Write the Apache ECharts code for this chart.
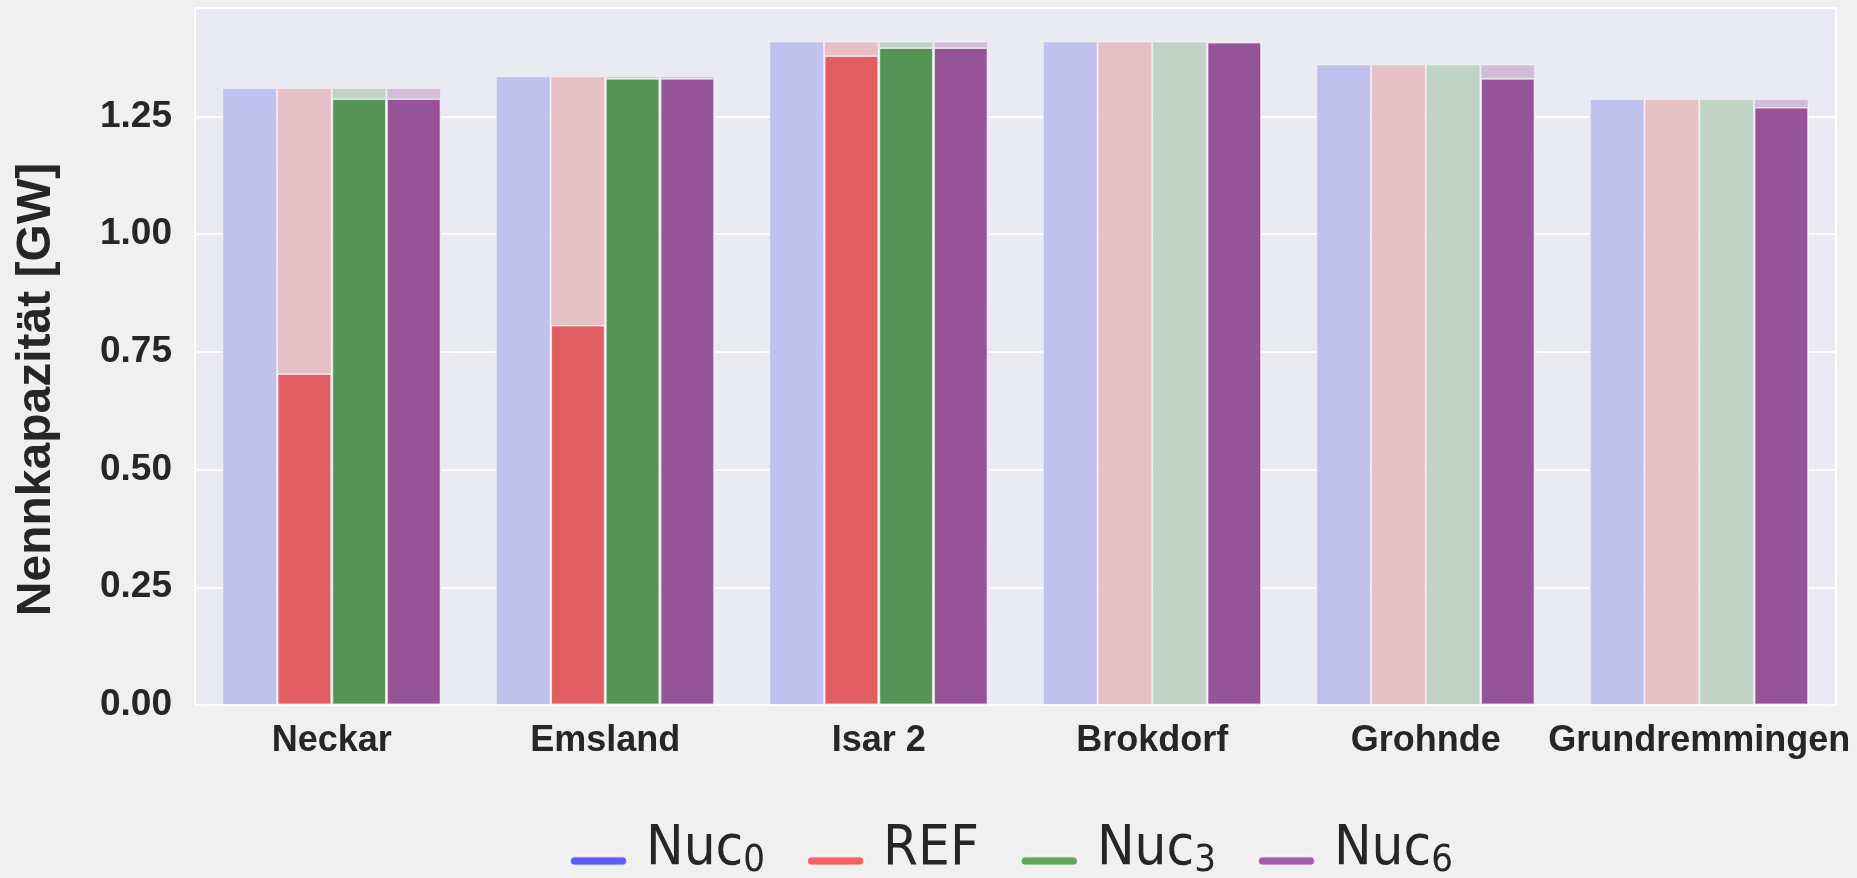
<!DOCTYPE html>
<html>
<head>
<meta charset="utf-8">
<script src="https://cdn.jsdelivr.net/npm/echarts@6/dist/echarts.min.js"></script>
<style>
html,body{margin:0;padding:0;background:#f0f0f0;}
#chart{width:1857px;height:878px;}
</style>
</head>
<body>
<div id="chart"></div>
<script>
const categories = ['Neckar', 'Emsland', 'Isar 2', 'Brokdorf', 'Grohnde', 'Grundremmingen'];
const capacity = [1.310, 1.335, 1.409, 1.409, 1.360, 1.287];
const seriesNames = ['Nuc0', 'REF', 'Nuc3', 'Nuc6'];
const nuc0 = [0, 0, 0, 0, 0, 0];
const ref = [0.704, 0.807, 1.379, 0, 0, 0];
const nuc3 = [1.288, 1.331, 1.396, 0, 0, 0];
const nuc6 = [1.288, 1.331, 1.396, 1.408, 1.331, 1.270];
const yTicks = [0, 0.25, 0.5, 0.75, 1.0, 1.25];

const values = [nuc0, ref, nuc3, nuc6];
const bgColors = ['#c0c1ec', '#e6c0c7', '#c0d3c6', '#d2bdd8'];
const fgColors = ['#5c5cf5', '#e05e62', '#559455', '#955497'];
const legendColors = ['#5c5cf5', '#f56060', '#5ea85e', '#a65ea9'];

const chart = echarts.init(document.getElementById('chart'), null, {renderer: 'canvas'});

const series = [];
seriesNames.forEach((n, i) => {
  series.push({
    name: n + '_cap',
    type: 'bar',
    xAxisIndex: 0,
    data: capacity,
    barGap: '0%',
    barCategoryGap: '20%',
    itemStyle: {color: bgColors[i], borderColor: 'rgba(255,255,255,0.45)', borderWidth: 1},
    silent: true,
    z: 2
  });
});
seriesNames.forEach((n, i) => {
  series.push({
    name: n,
    type: 'bar',
    xAxisIndex: 1,
    data: values[i],
    barGap: '0%',
    barCategoryGap: '20%',
    itemStyle: {color: fgColors[i], borderColor: 'rgba(255,255,255,0.7)', borderWidth: 1.5},
    z: 3
  });
});

const legendFont = "'DejaVu Sans Condensed', 'DejaVu Sans', sans-serif";
const option = {
  backgroundColor: '#f0f0f0',
  animation: false,
  grid: {
    left: 195, right: 21, top: 8, bottom: 173,
    show: true, backgroundColor: '#eaeaf2', borderColor: '#ffffff', borderWidth: 2,
    containLabel: false,
    outerBoundsMode: 'none'
  },
  legend: {
    data: seriesNames.map((n, i) => ({name: n, itemStyle: {color: legendColors[i]}})),
    left: 569,
    top: 821,
    padding: 0,
    itemGap: 41,
    itemWidth: 57,
    itemHeight: 9,
    icon: 'path://M4.5,0 L52.5,0 A4.5,4.5 0 0 1 52.5,9 L4.5,9 A4.5,4.5 0 0 1 4.5,0 Z',
    selectedMode: false,
    formatter: function (name) {
      if (name.indexOf('Nuc') === 0) {
        return '{m|Nuc}{s|' + name.slice(3) + '}';
      }
      return '{m|' + name + '}';
    },
    textStyle: {
      color: '#262626',
      padding: [0, 0, 24, 14],
      fontFamily: legendFont,
      rich: {
        m: {fontSize: 56, lineHeight: 62, color: '#262626', fontFamily: legendFont},
        s: {fontSize: 38, lineHeight: 28, verticalAlign: 'bottom', color: '#262626', fontFamily: legendFont}
      }
    }
  },
  xAxis: [
    {
      type: 'category',
      data: categories,
      axisLine: {show: false},
      axisTick: {show: false},
      splitLine: {show: false},
      axisLabel: {
        color: '#262626', fontSize: 36, fontWeight: 'bold',
        fontFamily: "'Liberation Sans', Arial, sans-serif",
        margin: 18, interval: 0
      }
    },
    {
      type: 'category',
      data: categories,
      show: false
    }
  ],
  yAxis: {
    type: 'value',
    min: 0,
    max: 1.48,
    interval: 0.25,
    name: 'Nennkapazität [GW]',
    nameLocation: 'middle',
    nameGap: 134,
    nameRotate: 90,
    nameTextStyle: {
      color: '#262626', fontSize: 48, fontWeight: 'bold',
      fontFamily: "'Liberation Sans', Arial, sans-serif",
      padding: [0, 66, 0, 0]
    },
    axisLine: {show: false},
    axisTick: {show: false},
    splitLine: {show: true, lineStyle: {color: '#ffffff', width: 2}},
    axisLabel: {
      color: '#262626', fontSize: 37, fontWeight: 'bold',
      fontFamily: "'Liberation Sans', Arial, sans-serif",
      margin: 23,
      showMaxLabel: false,
      formatter: function (v) {
        return yTicks.some(t => Math.abs(t - v) < 1e-9) ? v.toFixed(2) : '';
      }
    }
  },
  series: series
};

chart.setOption(option);
</script>
</body>
</html>
